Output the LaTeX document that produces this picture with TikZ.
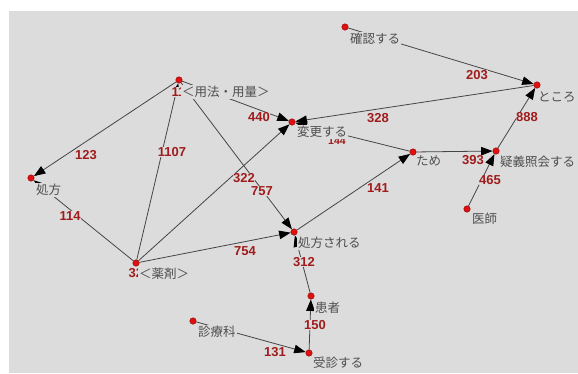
\documentclass[tikz,border=0pt]{standalone}
\usepackage{fontspec}
\setmainfont{Liberation Sans}
\newfontfamily\jp{Noto Sans CJK JP}
\usetikzlibrary{arrows.meta}
\definecolor{bgc}{HTML}{DCDCDC}
\definecolor{numred}{HTML}{A01C1C}
\definecolor{lblc}{HTML}{4E4E4E}
\definecolor{edgec}{HTML}{454545}
\definecolor{dotc}{HTML}{E01010}
\begin{document}
\begin{tikzpicture}[x=1pt,y=-1pt,
  vtx/.style={circle,fill=dotc,draw=red!55!black,line width=0.4pt,inner sep=0pt,minimum size=6.5pt},
  lab/.style={anchor=west,fill=bgc,inner sep=1pt,text=lblc,font=\jp\fontsize{12.5}{13}\selectfont},
  wt/.style={fill=bgc,inner sep=0.5pt,text=numred,font=\bfseries\fontsize{13}{13}\selectfont},
  link/.style={draw=edgec,line width=0.8pt,-{Triangle[length=11.5pt,width=8.5pt,color=black,fill=black]}},
]
\useasboundingbox (0,0) rectangle (578,373);
\fill[white] (0,0) rectangle (578,373);
\fill[bgc] (9,11) rectangle (578,373);

% vertices
\node[vtx] (kakunin) at (345,27) {};
\node[vtx] (tokoro) at (537,85) {};
\node[vtx] (youhou) at (179,80) {};
\node[vtx] (henkou) at (292,122) {};
\node[vtx] (tame) at (413,152) {};
\node[vtx] (gigi) at (496,151) {};
\node[vtx] (ishi) at (467,209) {};
\node[vtx] (shohou) at (31,178) {};
\node[vtx] (yakuzai) at (136,263) {};
\node[vtx] (sareru) at (294,232) {};
\node[vtx] (kanja) at (311,296) {};
\node[vtx] (shinryo) at (193,321) {};
\node[vtx] (jushin) at (309,353) {};

% edges
\draw[link] (kakunin) -- (tokoro);
\draw[link] (tokoro) -- (henkou);
\draw[link] (youhou) -- (henkou);
\draw[link] (youhou) -- (shohou);
\draw[link] (yakuzai) -- (youhou);
\draw[link] (yakuzai) -- (henkou);
\draw[link] (youhou) -- (sareru);
\draw[link] (yakuzai) -- (sareru);
\draw[link] (yakuzai) -- (shohou);
\draw[link] (sareru) -- (tame);
\draw[link] (tame) -- (henkou);
\draw[link] (tame) -- (gigi);
\draw[link] (ishi) -- (gigi);
\draw[link] (gigi) -- (tokoro);
\draw[link] (kanja) -- (sareru);
\draw[link] (jushin) -- (kanja);
\draw[link] (shinryo) -- (jushin);

% weights
\node[wt] (w203) at (477,75) {203};
\node[wt] (w328) at (378,118) {328};
\node[wt] (w440) at (259,117) {440};
\node[wt] (w123) at (86,155) {123};
\node[wt] (w1107) at (172,152) {1107};
\node[wt] (w322) at (244,178) {322};
\node[wt] (w757) at (262,191) {757};
\node[wt] (w754) at (245,251) {754};
\node[wt] (w114) at (70,216) {114};
\node[wt] (w141) at (378,188) {141};
\node[wt,font=\bfseries\fontsize{10.5}{10.5}\selectfont] (w144) at (337,141) {144};
\node[wt] (w393) at (473,160) {393};
\node[wt] (w465) at (490,180) {465};
\node[wt] (w888) at (527,117) {888};
\node[wt] (w312) at (304,262) {312};
\node[wt] (w150) at (315,325) {150};
\node[wt] (w131) at (275,352) {131};
\node[wt,anchor=west] (w1) at (171,92) {11};
\node[wt,anchor=west] (w3) at (128,273) {32};

% labels
\node[lab] (lkakunin) at (349,39) {確認する};
\node[lab] (ltokoro) at (537,97) {ところ};
\node[lab] (lyouhou) at (181,92) {＜用法・用量＞};
\node[lab] (lhenkou) at (296,132) {変更する};
\node[lab] (ltame) at (415,161) {ため};
\node[lab] (lgigi) at (499,162) {疑義照会する};
\node[lab] (lishi) at (471,219) {医師};
\node[lab] (lshohou) at (35,190) {処方};
\node[lab] (lyakuzai) at (138,274) {＜薬剤＞};
\node[lab] (lsareru) at (297,243) {処方される};
\node[lab] (lkanja) at (314,308) {患者};
\node[lab] (lshinryo) at (197,332) {診療科};
\node[lab] (ljushin) at (312,363) {受診する};
\end{tikzpicture}
\end{document}
